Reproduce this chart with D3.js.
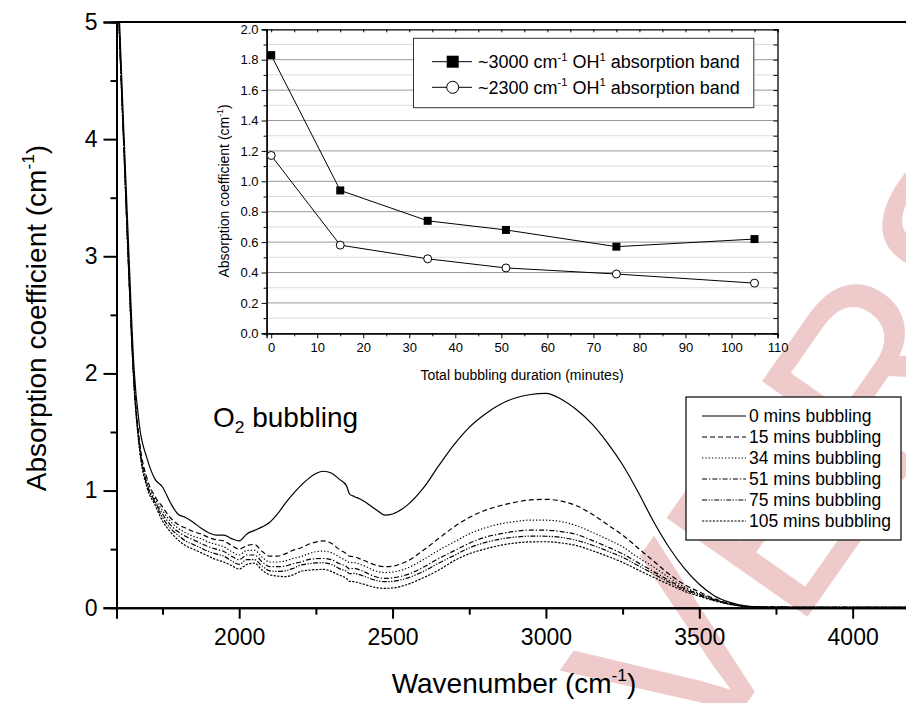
<!DOCTYPE html>
<html>
<head>
<meta charset="utf-8">
<script src="https://cdnjs.cloudflare.com/ajax/libs/d3/7.8.5/d3.min.js"></script>
<style>
body { margin: 0; background: #fff; }
svg { display: block; font-family: "Liberation Sans", Arial, sans-serif; }
</style>
</head>
<body>
<svg id="chart" width="906" height="703"></svg>
<script>
// wavenumber grid (cm-1) the spectra were read at
var wavenumbers = [1600,1610,1625,1640,1657,1675,1700,1725,1750,1775,1800,1825,1850,1875,1900,1925,1950,1975,2000,2025,2050,2075,2100,2125,2150,2175,2200,2225,2250,2275,2300,2325,2350,2360,2375,2400,2450,2475,2500,2550,2600,2650,2700,2750,2800,2850,2900,2950,3000,3050,3100,3150,3200,3250,3300,3350,3400,3450,3500,3550,3600,3650,3700,3800,3900,4000,4100,4200];

var abs0 = [5.8,5.0,4.0,3.05,2.05,1.55,1.27,1.10,1.03,0.90,0.80,0.77,0.73,0.68,0.64,0.62,0.62,0.59,0.57,0.63,0.66,0.69,0.73,0.80,0.89,0.97,1.04,1.10,1.145,1.165,1.15,1.10,1.04,0.97,0.95,0.92,0.83,0.79,0.80,0.88,1.02,1.21,1.39,1.54,1.65,1.735,1.79,1.82,1.83,1.78,1.69,1.57,1.41,1.22,0.99,0.74,0.52,0.34,0.20,0.10,0.045,0.015,0.006,0.003,0.003,0.003,0.003,0.003];
var abs15 = [5.7,4.9,3.9,2.9,1.95,1.42,1.10,0.95,0.86,0.77,0.71,0.68,0.65,0.63,0.60,0.58,0.57,0.53,0.50,0.53,0.54,0.48,0.44,0.44,0.46,0.49,0.51,0.54,0.56,0.57,0.55,0.50,0.46,0.44,0.435,0.41,0.36,0.35,0.355,0.40,0.49,0.59,0.69,0.77,0.83,0.87,0.90,0.92,0.925,0.91,0.87,0.80,0.71,0.62,0.51,0.40,0.29,0.20,0.135,0.075,0.035,0.012,0.006,0.004,0.004,0.004,0.004,0.004];
var abs34 = [5.7,4.88,3.88,2.88,1.93,1.40,1.07,0.93,0.83,0.74,0.68,0.64,0.61,0.59,0.56,0.54,0.52,0.48,0.45,0.49,0.49,0.43,0.39,0.39,0.40,0.42,0.435,0.46,0.478,0.483,0.47,0.435,0.40,0.385,0.385,0.365,0.31,0.30,0.305,0.34,0.41,0.49,0.56,0.63,0.68,0.715,0.735,0.748,0.747,0.735,0.70,0.645,0.585,0.52,0.43,0.35,0.26,0.18,0.12,0.07,0.032,0.012,0.006,0.004,0.004,0.004,0.004,0.004];
var abs51 = [5.68,4.87,3.87,2.87,1.92,1.38,1.05,0.91,0.80,0.71,0.65,0.61,0.58,0.55,0.52,0.50,0.48,0.44,0.41,0.45,0.45,0.39,0.35,0.35,0.355,0.375,0.39,0.41,0.418,0.42,0.41,0.378,0.35,0.33,0.336,0.315,0.26,0.25,0.255,0.285,0.345,0.42,0.485,0.55,0.60,0.63,0.652,0.663,0.662,0.65,0.625,0.575,0.52,0.46,0.385,0.31,0.235,0.165,0.115,0.068,0.032,0.012,0.006,0.004,0.004,0.004,0.004,0.004];
var abs75 = [5.66,4.86,3.86,2.86,1.91,1.37,1.04,0.90,0.77,0.68,0.62,0.57,0.54,0.51,0.48,0.46,0.44,0.40,0.37,0.41,0.41,0.355,0.315,0.31,0.315,0.335,0.364,0.375,0.382,0.384,0.37,0.336,0.31,0.29,0.293,0.275,0.23,0.222,0.225,0.255,0.31,0.38,0.445,0.51,0.555,0.585,0.603,0.611,0.61,0.60,0.575,0.535,0.485,0.43,0.36,0.29,0.22,0.155,0.105,0.062,0.03,0.011,0.006,0.004,0.004,0.004,0.004,0.004];
var abs105 = [5.65,4.85,3.85,2.85,1.90,1.35,1.02,0.88,0.74,0.65,0.58,0.53,0.50,0.47,0.44,0.41,0.39,0.36,0.33,0.37,0.38,0.32,0.28,0.27,0.265,0.28,0.31,0.32,0.325,0.327,0.31,0.28,0.25,0.225,0.222,0.205,0.17,0.165,0.168,0.20,0.255,0.32,0.40,0.46,0.50,0.532,0.552,0.562,0.563,0.553,0.53,0.488,0.44,0.387,0.323,0.26,0.20,0.142,0.098,0.058,0.028,0.011,0.006,0.004,0.004,0.004,0.004,0.004];

var seriesLabels = ["0 mins bubbling","15 mins bubbling","34 mins bubbling","51 mins bubbling","75 mins bubbling","105 mins bubbling"];

// inset: band intensity vs bubbling time
var bubblingMinutes = [0, 15, 34, 51, 75, 105];
var band3000 = [1.83, 0.94, 0.74, 0.68, 0.57, 0.62];
var band2300 = [1.17, 0.58, 0.49, 0.43, 0.39, 0.33];

var mainXTicks = [2000, 2500, 3000, 3500, 4000];
var mainYTicks = [0, 1, 2, 3, 4, 5];
var insetXTicks = [0,10,20,30,40,50,60,70,80,90,100,110];
var insetYTicks = [0.0,0.2,0.4,0.6,0.8,1.0,1.2,1.4,1.6,1.8,2.0];

var dashes = ["none", "5,3", "1.3,2", "5,2,1.3,2", "5,1.5,1.3,1.5,1.3,1.5", "2.2,1.4"];

var svg = d3.select("#chart");

// superscript / subscript helper
function rich(sel, parts, size) {
  parts.forEach(function(p) {
    var t = sel.append("tspan").text(p.t);
    if (p.sup) t.attr("dy", -size * 0.42).attr("font-size", size * 0.62);
    if (p.sub) t.attr("dy", size * 0.22).attr("font-size", size * 0.62);
    if (p.back) t.attr("dy", p.back * size);
  });
  return sel;
}

// watermark behind everything
svg.append("text")
  .attr("transform", "translate(700,770) rotate(-55)")
  .attr("font-size", 250)
  .attr("fill", "#d98a8a")
  .attr("fill-opacity", 0.45)
  .text("VERSION");

// ---- main chart ----
var m = {left: 116.5, right: 914, top: 22, bottom: 607.7};
var x = d3.scaleLinear().domain([1600, 4200]).range([m.left, m.right]);
var y = d3.scaleLinear().domain([0, 5]).range([m.bottom, m.top]);

svg.append("clipPath").attr("id", "mainClip")
  .append("rect").attr("x", m.left).attr("y", m.top).attr("width", m.right - m.left).attr("height", m.bottom - m.top);

var spectra = [abs0, abs15, abs34, abs51, abs75, abs105];
var line = d3.line()
  .x(function(d, i) { return x(wavenumbers[i]); })
  .y(function(d) { return y(d); })
  .curve(d3.curveMonotoneX);

svg.append("g").attr("clip-path", "url(#mainClip)")
  .selectAll("path").data(spectra).enter().append("path")
  .attr("d", line)
  .attr("fill", "none")
  .attr("stroke", "#000")
  .attr("stroke-width", 1.2)
  .attr("stroke-dasharray", function(d, i) { return dashes[i]; });

// axes
var xAxis = svg.append("g").attr("transform", "translate(0," + m.bottom + ")")
  .call(d3.axisBottom(x).tickValues(mainXTicks).tickSize(11).tickPadding(10).tickFormat(d3.format("d")));
svg.append("g").attr("transform", "translate(0," + m.bottom + ")")
  .call(d3.axisBottom(x).tickValues(d3.range(1750, 4200, 500)).tickSize(7).tickFormat(""));
var yAxis = svg.append("g").attr("transform", "translate(" + m.left + ",0)")
  .call(d3.axisLeft(y).tickValues(mainYTicks).tickSize(13).tickPadding(6).tickFormat(d3.format("d")));
svg.append("g").attr("transform", "translate(" + m.left + ",0)")
  .call(d3.axisLeft(y).tickValues(d3.range(0.5, 5, 1)).tickSize(6).tickFormat(""));
svg.selectAll(".domain").attr("stroke-width", 2);
svg.selectAll(".tick line").attr("stroke-width", 2);
xAxis.selectAll("text").attr("font-size", 23).attr("font-family", null).attr("fill", "#000");
yAxis.selectAll("text").attr("font-size", 23).attr("font-family", null).attr("fill", "#000");

svg.append("line").attr("x1", m.left).attr("x2", m.right).attr("y1", m.top).attr("y2", m.top)
  .attr("stroke", "#000").attr("stroke-width", 2);

rich(svg.append("text").attr("x", 514).attr("y", 693).attr("text-anchor", "middle").attr("font-size", 28),
  [{t: "Wavenumber (cm"}, {t: "-1", sup: true}, {t: ")", back: 0.42}], 28);
rich(svg.append("text").attr("transform", "translate(46,318) rotate(-90)").attr("text-anchor", "middle").attr("font-size", 28),
  [{t: "Absorption coefficient (cm"}, {t: "-1", sup: true}, {t: ")", back: 0.42}], 28);

rich(svg.append("text").attr("x", 213).attr("y", 427).attr("font-size", 28),
  [{t: "O"}, {t: "2", sub: true}, {t: " bubbling", back: -0.22}], 28);

// main legend
var lg = svg.append("g");
lg.append("rect").attr("x", 686).attr("y", 397).attr("width", 215).attr("height", 143)
  .attr("fill", "#fff").attr("stroke", "#000").attr("stroke-width", 1.2);
seriesLabels.forEach(function(s, i) {
  var cy = 416 + i * 21;
  lg.append("line").attr("x1", 702).attr("x2", 746).attr("y1", cy).attr("y2", cy)
    .attr("stroke", "#000").attr("stroke-width", 1.2).attr("stroke-dasharray", dashes[i]);
  lg.append("text").attr("x", 749).attr("y", cy + 6).attr("font-size", 17.5).text(s);
});

// ---- inset ----
var ins = {left: 266.6, right: 777.5, top: 29.3, bottom: 333.3};
var ix = d3.scaleLinear().domain([-1, 110]).range([ins.left, ins.right]);
var iy = d3.scaleLinear().domain([0, 2]).range([ins.bottom, ins.top]);
var inset = svg.append("g");

inset.append("rect").attr("x", ins.left).attr("y", ins.top)
  .attr("width", ins.right - ins.left).attr("height", ins.bottom - ins.top).attr("fill", "#fff");

inset.append("g").selectAll("line").data(d3.range(0.1, 2, 0.2)).enter().append("line")
  .attr("x1", ins.left).attr("x2", ins.right)
  .attr("y1", function(d) { return iy(d); }).attr("y2", function(d) { return iy(d); })
  .attr("stroke", "#bbb").attr("stroke-width", 1).attr("stroke-dasharray", "1,1");
inset.append("g").selectAll("line").data(insetYTicks.slice(1, -1)).enter().append("line")
  .attr("x1", ins.left).attr("x2", ins.right)
  .attr("y1", function(d) { return iy(d); }).attr("y2", function(d) { return iy(d); })
  .attr("stroke", "#999").attr("stroke-width", 1);

var ixAxis = inset.append("g").attr("transform", "translate(0," + ins.bottom + ")")
  .call(d3.axisBottom(ix).tickValues(insetXTicks).tickSize(5).tickPadding(4).tickFormat(d3.format("d")));
inset.append("g").attr("transform", "translate(0," + ins.bottom + ")")
  .call(d3.axisBottom(ix).tickValues(d3.range(5, 110, 10)).tickSize(3).tickFormat(""));
inset.append("g").attr("transform", "translate(0," + ins.top + ")")
  .call(d3.axisBottom(ix).tickValues(d3.range(0, 111, 5)).tickSize(3).tickFormat(""));
var iyAxis = inset.append("g").attr("transform", "translate(" + ins.left + ",0)")
  .call(d3.axisLeft(iy).tickValues(insetYTicks).tickSize(5).tickPadding(3).tickFormat(d3.format(".1f")));
inset.append("g").attr("transform", "translate(" + ins.left + ",0)")
  .call(d3.axisLeft(iy).tickValues(d3.range(0.1, 2, 0.2)).tickSize(3).tickFormat(""));
inset.append("g").attr("transform", "translate(" + ins.right + ",0)")
  .call(d3.axisLeft(iy).tickValues(d3.range(0, 2.01, 0.1)).tickSize(4).tickFormat(""));
inset.selectAll(".domain").attr("stroke-width", 1.3);
inset.selectAll("text").attr("font-size", 13).attr("font-family", null).attr("fill", "#000");

rich(inset.append("text").attr("x", 522).attr("y", 380).attr("text-anchor", "middle").attr("font-size", 14),
  [{t: "Total bubbling duration (minutes)"}], 14);
rich(inset.append("text").attr("transform", "translate(229,191) rotate(-90)").attr("text-anchor", "middle").attr("font-size", 14),
  [{t: "Absorption coefficient (cm"}, {t: "-1", sup: true}, {t: ")", back: 0.42}], 14);

var iline = d3.line()
  .x(function(d, i) { return ix(bubblingMinutes[i]); })
  .y(function(d) { return iy(d); });
inset.append("path").attr("d", iline(band3000)).attr("fill", "none").attr("stroke", "#000").attr("stroke-width", 1);
inset.append("path").attr("d", iline(band2300)).attr("fill", "none").attr("stroke", "#000").attr("stroke-width", 1);
inset.selectAll(".sq").data(band3000).enter().append("rect")
  .attr("x", function(d, i) { return ix(bubblingMinutes[i]) - 4; })
  .attr("y", function(d) { return iy(d) - 4; })
  .attr("width", 8).attr("height", 8).attr("fill", "#000");
inset.selectAll(".ci").data(band2300).enter().append("circle")
  .attr("cx", function(d, i) { return ix(bubblingMinutes[i]); })
  .attr("cy", function(d) { return iy(d); })
  .attr("r", 4).attr("fill", "#fff").attr("stroke", "#000").attr("stroke-width", 1);

// inset legend
var il = inset.append("g");
il.append("rect").attr("x", 413.5).attr("y", 38.3).attr("width", 340.3).attr("height", 69.4)
  .attr("fill", "#fff").attr("stroke", "#333").attr("stroke-width", 1);
[61.7, 87.3].forEach(function(cy, i) {
  il.append("line").attr("x1", 432).attr("x2", 472).attr("y1", cy).attr("y2", cy).attr("stroke", "#000");
  if (i === 0) {
    il.append("rect").attr("x", 446.7).attr("y", cy - 6).attr("width", 12).attr("height", 12).attr("fill", "#000");
  } else {
    il.append("circle").attr("cx", 452.7).attr("cy", cy).attr("r", 6).attr("fill", "#fff").attr("stroke", "#000");
  }
  rich(il.append("text").attr("x", 478).attr("y", cy + 6.5).attr("font-size", 18),
    [{t: i === 0 ? "~3000 cm" : "~2300 cm"}, {t: "-1", sup: true}, {t: " OH", back: 0.42}, {t: "1", sup: true}, {t: " absorption band", back: 0.42}], 18);
});
</script>
</body>
</html>
